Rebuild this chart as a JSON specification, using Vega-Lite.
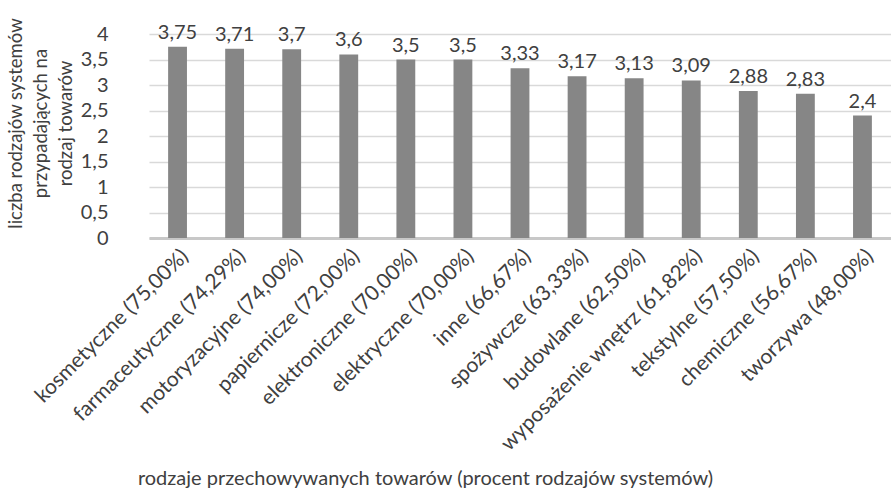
{
  "$schema": "https://vega.github.io/schema/vega-lite/v6.json",
  "autosize": {"type": "none"},
  "width": 742,
  "height": 204,
  "padding": {"left": 149, "top": 34, "right": 0, "bottom": 252},
  "background": "white",
  "config": {
    "locale": {"number": {"decimal": ",", "thousands": " ", "grouping": [3], "currency": ["", " zł"]}},
    "font": "Lato",
    "view": {"stroke": null}
  },
  "data": {
    "values": [
      {"towar": "kosmetyczne (75,00%)", "liczba": 3.75},
      {"towar": "farmaceutyczne (74,29%)", "liczba": 3.71},
      {"towar": "motoryzacyjne (74,00%)", "liczba": 3.7},
      {"towar": "papiernicze (72,00%)", "liczba": 3.6},
      {"towar": "elektroniczne (70,00%)", "liczba": 3.5},
      {"towar": "elektryczne (70,00%)", "liczba": 3.5},
      {"towar": "inne (66,67%)", "liczba": 3.33},
      {"towar": "spożywcze (63,33%)", "liczba": 3.17},
      {"towar": "budowlane (62,50%)", "liczba": 3.13},
      {"towar": "wyposażenie wnętrz (61,82%)", "liczba": 3.09},
      {"towar": "tekstylne (57,50%)", "liczba": 2.88},
      {"towar": "chemiczne (56,67%)", "liczba": 2.83},
      {"towar": "tworzywa (48,00%)", "liczba": 2.4}
    ]
  },
  "encoding": {
    "x": {
      "field": "towar",
      "type": "nominal",
      "sort": null,
      "scale": {"paddingInner": 0.67, "paddingOuter": 0.335},
      "axis": {
        "title": "rodzaje przechowywanych towarów (procent rodzajów systemów)",
        "titleFontSize": 20,
        "titleFontWeight": "normal",
        "titleColor": "#404040",
        "titleAnchor": "middle",
        "titleX": 276,
        "titleY": 240,
        "titleBaseline": "middle",
        "labelAngle": -45,
        "labelAlign": "right",
        "labelBaseline": "top",
        "labelFontSize": 21,
        "labelColor": "#404040",
        "labelPadding": 7,
        "labelLimit": 400,
        "ticks": false,
        "domainColor": "#c8c8c8",
        "domainWidth": 3,
        "grid": false
      }
    },
    "y": {
      "field": "liczba",
      "type": "quantitative",
      "scale": {"domain": [0, 4]},
      "axis": {
        "values": [0, 0.5, 1, 1.5, 2, 2.5, 3, 3.5, 4],
        "format": ".1~f",
        "title": ["liczba rodzajów systemów", "przypadających na", "rodzaj towarów"],
        "titleFontSize": 18.5,
        "titleFontWeight": "normal",
        "titleColor": "#404040",
        "titleAngle": -90,
        "titleAlign": "center",
        "titleBaseline": "middle",
        "titleLineHeight": 25,
        "titleX": -134,
        "titleY": 89,
        "labelFontSize": 20,
        "labelColor": "#404040",
        "labelPadding": 41,
        "ticks": false,
        "domain": false,
        "gridColor": "#d9d9d9",
        "gridWidth": 1.5
      }
    }
  },
  "layer": [
    {"mark": {"type": "bar", "color": "#868686"}},
    {
      "mark": {"type": "text", "baseline": "bottom", "dy": -4, "fontSize": 20, "color": "#404040"},
      "encoding": {"text": {"field": "liczba", "type": "quantitative", "format": ".3~r"}}
    }
  ]
}
